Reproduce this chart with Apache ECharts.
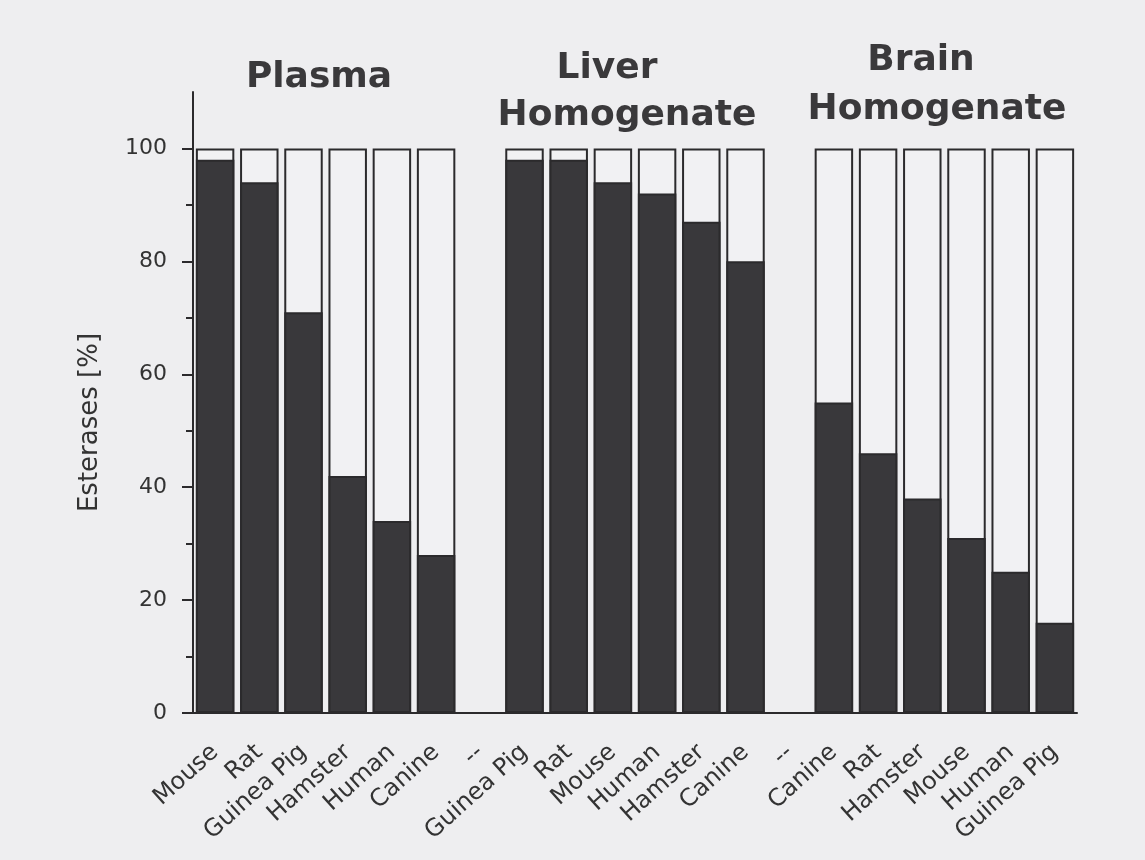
<!DOCTYPE html>
<html>
<head>
<meta charset="utf-8">
<title>Esterases</title>
<script src="https://cdn.jsdelivr.net/npm/echarts@6/dist/echarts.min.js"></script>
<style>
  html, body { margin: 0; padding: 0; background: #eeeef0; }
  #chart { width: 1145px; height: 860px; }
</style>
</head>
<body>
<div id="chart"></div>
<script>
// Sample groups and the species inside each group ('--' marks the gap between groups)
const plasmaSpecies = ['Mouse', 'Rat', 'Guinea Pig', 'Hamster', 'Human', 'Canine'];
const liverSpecies  = ['Guinea Pig', 'Rat', 'Mouse', 'Human', 'Hamster', 'Canine'];
const brainSpecies  = ['Canine', 'Rat', 'Hamster', 'Mouse', 'Human', 'Guinea Pig'];
const gapLabel = '--';

// Esterase share [%] per species (black part of each bar)
const plasmaValues = [98, 94, 71, 42, 34, 28];
const liverValues  = [98, 98, 94, 92, 87, 80];
const brainValues  = [55, 46, 38, 31, 25, 16];

// Full bar height [%]
const totalPercent = 100;

// Y axis ticks
const yMajorTicks = [0, 20, 40, 60, 80, 100];
const yMinorTicks = [10, 30, 50, 70, 90];
const yMax = 110;

// Group titles
const groupTitles = [
  { lines: ['Plasma'], x: 319, y: [78] },
  { lines: ['Liver', 'Homogenate'], x: [607, 627], y: [69, 116] },
  { lines: ['Brain', 'Homogenate'], x: [921, 937], y: [61, 110] }
];

const categories = [...plasmaSpecies, gapLabel, ...liverSpecies, gapLabel, ...brainSpecies];
const esterase = [...plasmaValues, null, ...liverValues, null, ...brainValues];
const whole = esterase.map(v => (v == null ? null : totalPercent));

const ink = '#2b2a2c';
const fill = '#39383b';
const paper = '#f1f1f3';
const font = 'DejaVu Sans';

const titleGraphics = [];
groupTitles.forEach(g => {
  g.lines.forEach((t, i) => {
    titleGraphics.push({
      type: 'text',
      style: {
        text: t,
        x: Array.isArray(g.x) ? g.x[i] : g.x,
        y: g.y[i],
        align: 'center',
        verticalAlign: 'middle',
        font: 'bold 36px "' + font + '"',
        fill: '#3a393b'
      }
    });
  });
});

const chart = echarts.init(document.getElementById('chart'));
chart.setOption({
  backgroundColor: '#eeeef0',
  animation: false,
  grid: { left: 193, right: 68, top: 92, bottom: 147, containLabel: false },
  xAxis: {
    type: 'category',
    data: categories,
    boundaryGap: true,
    axisLine: { lineStyle: { color: ink, width: 2 } },
    axisTick: { alignWithLabel: true, length: 10, lineStyle: { color: ink, width: 2 } },
    axisLabel: {
      interval: 0,
      rotate: 42,
      margin: 36,
      color: '#333',
      fontFamily: font,
      fontSize: 24
    },
    splitLine: { show: false }
  },
  yAxis: [
    {
      type: 'value',
      min: 0,
      max: yMax,
      name: 'Esterases [%]',
      nameLocation: 'middle',
      nameGap: 90,
      nameTextStyle: { fontFamily: font, fontSize: 26, color: '#333', padding: [0, 40, 0, 0] },
      axisLine: { show: true, lineStyle: { color: ink, width: 2 } },
      axisTick: { show: true, length: 11, customValues: yMajorTicks, lineStyle: { color: ink, width: 2 } },
      axisLabel: { customValues: yMajorTicks, margin: 26, color: '#333', fontFamily: font, fontSize: 22 },
      splitLine: { show: false }
    },
    {
      type: 'value',
      min: 0,
      max: yMax,
      position: 'left',
      axisLine: { show: false },
      axisTick: { show: true, length: 7, customValues: yMinorTicks, lineStyle: { color: ink, width: 2 } },
      axisLabel: { show: false },
      splitLine: { show: false }
    }
  ],
  series: [
    {
      name: 'Total',
      type: 'bar',
      data: whole,
      barWidth: '87%',
      barGap: '-100%',
      itemStyle: { color: paper, borderColor: ink, borderWidth: 2 },
      z: 2
    },
    {
      name: 'Esterases',
      type: 'bar',
      data: esterase,
      barWidth: '87%',
      barGap: '-100%',
      itemStyle: { color: fill, borderColor: ink, borderWidth: 2 },
      z: 3
    }
  ],
  graphic: titleGraphics
});
</script>
</body>
</html>
